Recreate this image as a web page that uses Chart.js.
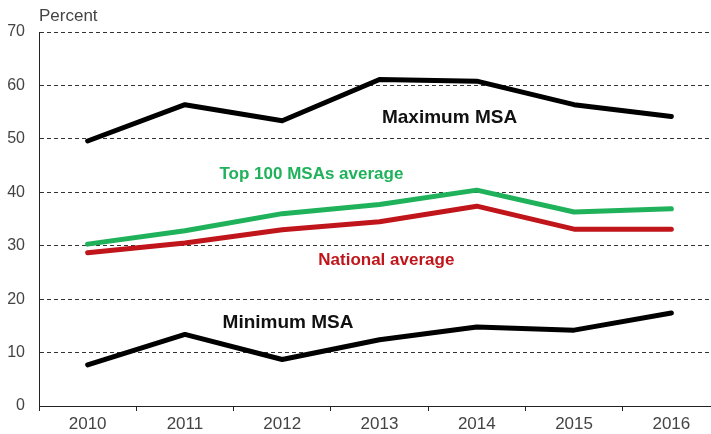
<!DOCTYPE html>
<html>
<head>
<meta charset="utf-8">
<script src="https://cdn.jsdelivr.net/npm/chart.js@4"></script>
<style>
  html, body { margin: 0; padding: 0; background: #fff; overflow: hidden; }
  #wrap { width: 720px; height: 434px; }
</style>
</head>
<body>
<div id="wrap"><canvas id="msaChart" width="720" height="434"></canvas></div>
<script>
const years = ["2010", "2011", "2012", "2013", "2014", "2015", "2016"]
const maximumMsa = [49.6, 56.4, 53.4, 61.1, 60.8, 56.4, 54.2]
const top100Avg = [30.3, 32.8, 36.0, 37.7, 40.4, 36.3, 36.9]
const nationalAvg = [28.7, 30.5, 33.0, 34.5, 37.4, 33.1, 33.1]
const minimumMsa = [7.7, 13.4, 8.7, 12.4, 14.8, 14.2, 17.4]
const yTicks = [0, 10, 20, 30, 40, 50, 60, 70]

// series labels placed in data coordinates (category index, value)
const seriesLabels = [
  {text: "Maximum MSA", x: 3.72, y: 54.0, color: "#111", size: 19},
  {text: "Top 100 MSAs average", x: 2.30, y: 43.4, color: "#1fb25a", size: 17},
  {text: "National average", x: 3.07, y: 27.3, color: "#c0161b", size: 17},
  {text: "Minimum MSA", x: 2.06, y: 15.5, color: "#111", size: 19}
]

const labelPlugin = {
  id: "seriesLabels",
  afterDatasetsDraw(chart) {
    const ctx = chart.ctx
    const xs = chart.scales.x, ys = chart.scales.y
    ctx.save()
    ctx.textAlign = "center"
    ctx.textBaseline = "middle"
    const step = xs.getPixelForValue(1) - xs.getPixelForValue(0)
    seriesLabels.forEach(l => {
      ctx.font = "bold " + l.size + "px 'Liberation Sans', Arial, sans-serif"
      ctx.fillStyle = l.color
      ctx.fillText(l.text, xs.getPixelForValue(0) + l.x * step, ys.getPixelForValue(l.y))
    })
    ctx.font = "17px 'Liberation Sans', Arial, sans-serif"
    ctx.fillStyle = "#444"
    ctx.textAlign = "left"
    ctx.fillText("Percent", 39, 16)
    ctx.restore()
  }
}

const line = (data, color) => ({
  data: data, borderColor: color, backgroundColor: color,
  borderWidth: 5, pointRadius: 0, tension: 0,
  borderCapStyle: "round", borderJoinStyle: "round"
})

new Chart(document.getElementById("msaChart"), {
  type: "line",
  data: {
    labels: years,
    datasets: [
      line(maximumMsa, "#000"),
      line(top100Avg, "#1fb25a"),
      line(nationalAvg, "#c0161b"),
      line(minimumMsa, "#000")
    ]
  },
  options: {
    responsive: false,
    animation: false,
    layout: {padding: {top: 32, right: 0, left: 0, bottom: 0}},
    plugins: {legend: {display: false}, tooltip: {enabled: false}},
    scales: {
      x: {
        offset: true,
        afterFit(s) { s.height = 28 },
        grid: {offset: true, drawOnChartArea: false, tickLength: 5, color: "#222"},
        border: {display: true, color: "#222", width: 1},
        ticks: {color: "#444", padding: 3, font: {size: 17, family: "'Liberation Sans', Arial, sans-serif"}}
      },
      y: {
        min: 0, max: 70,
        afterFit(s) { s.width = 39 },
        afterBuildTicks(s) { s.ticks = yTicks.map(v => ({value: v})) },
        grid: {color: "#333", lineWidth: 1, tickLength: 0},
        border: {display: true, color: "#222", width: 1, dash: [4, 3]},
        ticks: {color: "#444", padding: 14, font: {size: 16, family: "'Liberation Sans', Arial, sans-serif"}}
      }
    }
  },
  plugins: [labelPlugin]
})
</script>
</body>
</html>
